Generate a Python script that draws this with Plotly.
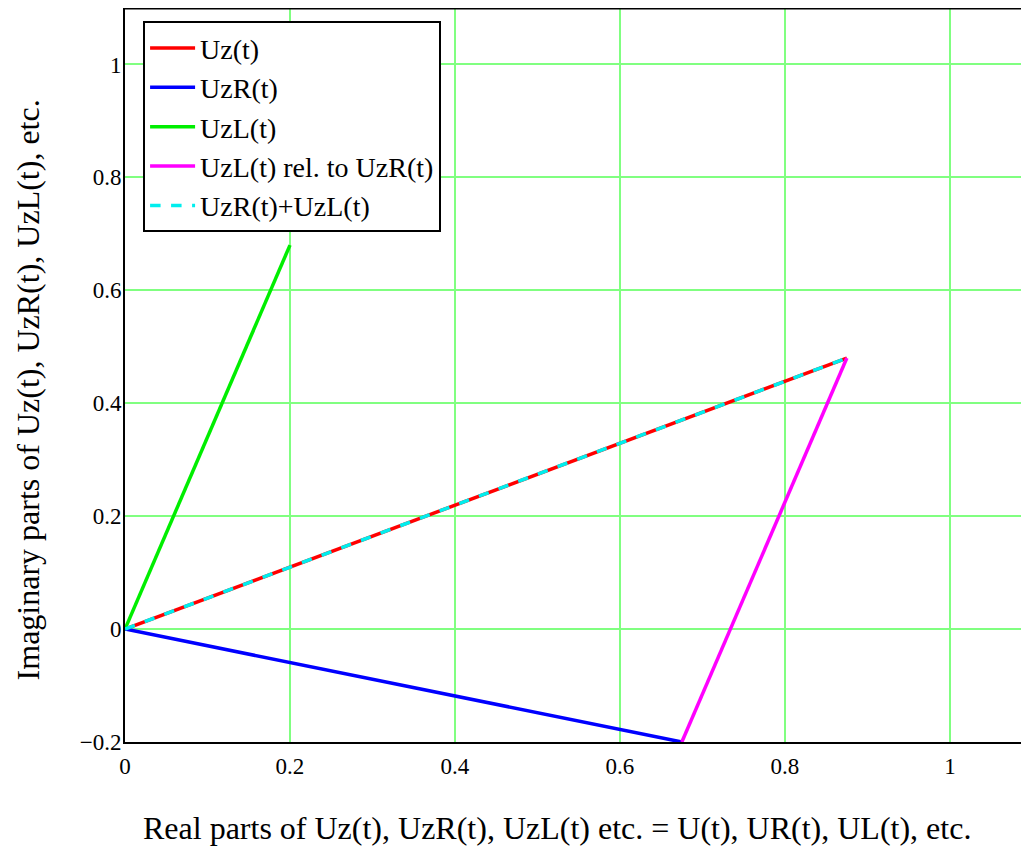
import plotly.graph_objects as go

# Phasor endpoints (real, imaginary)
uz_re = [0, 0.875]
uz_im = [0, 0.48]
uzr_re = [0, 0.675]
uzr_im = [0, -0.2]
uzl_re = [0, 0.2]
uzl_im = [0, 0.68]
rel_re = [0.675, 0.875]
rel_im = [-0.2, 0.48]
sum_re = [0, 0.875]
sum_im = [0, 0.48]

x_ticks = [0, 0.2, 0.4, 0.6, 0.8, 1]
x_labels = ["0", "0.2", "0.4", "0.6", "0.8", "1"]
y_ticks = [-0.2, 0, 0.2, 0.4, 0.6, 0.8, 1]
y_labels = ["\u22120.2", "0", "0.2", "0.4", "0.6", "0.8", "1"]

FONT = '"Liberation Serif", "Times New Roman", serif'

fig = go.Figure()
fig.add_trace(go.Scatter(x=uz_re, y=uz_im, mode="lines", name="Uz(t)",
                         line=dict(color="#ff0000", width=3.5)))
fig.add_trace(go.Scatter(x=uzr_re, y=uzr_im, mode="lines", name="UzR(t)",
                         line=dict(color="#0000ff", width=3.5)))
fig.add_trace(go.Scatter(x=uzl_re, y=uzl_im, mode="lines", name="UzL(t)",
                         line=dict(color="#00ee00", width=3.5)))
fig.add_trace(go.Scatter(x=rel_re, y=rel_im, mode="lines", name="UzL(t) rel. to UzR(t)",
                         line=dict(color="#ff00ff", width=3.5)))
fig.add_trace(go.Scatter(x=sum_re, y=sum_im, mode="lines", name="UzR(t)+UzL(t)",
                         line=dict(color="#00eeee", width=3.5, dash="dash")))

fig.update_layout(
    width=1021, height=838,
    margin=dict(l=117, r=0, t=0, b=104),
    paper_bgcolor="white", plot_bgcolor="white",
    font=dict(family=FONT, size=23, color="black"),
    showlegend=True,
    legend=dict(x=0.02, y=0.982, xanchor="left", yanchor="top",
                bgcolor="white", bordercolor="black", borderwidth=2,
                font=dict(family=FONT, size=28), tracegroupgap=0,
                itemwidth=45),
    xaxis=dict(range=[0, 1.0958], tickvals=x_ticks, ticktext=x_labels,
               showgrid=True, gridcolor="#80ff80", gridwidth=1.5,
               zeroline=False, showline=True, linecolor="black", linewidth=2,
               ticks="", ticklabelstandoff=2),
    yaxis=dict(range=[-0.2, 1.1], tickvals=y_ticks, ticktext=y_labels,
               showgrid=True, gridcolor="#80ff80", gridwidth=1.5,
               zeroline=False, showline=True, linecolor="black", linewidth=2,
               ticks="", ticklabelstandoff=-3),
    annotations=[
        dict(text="Real parts of Uz(t), UzR(t), UzL(t) etc. = U(t), UR(t), UL(t), etc.",
             xref="paper", yref="paper", x=0.478, y=0, xanchor="center", yanchor="middle",
             yshift=-86, showarrow=False, font=dict(family=FONT, size=32)),
        dict(text="Imaginary parts of Uz(t), UzR(t), UzL(t), etc.",
             xref="paper", yref="paper", x=0, y=0.479, xanchor="center", yanchor="middle",
             xshift=-97, textangle=-90, showarrow=False, font=dict(family=FONT, size=32)),
    ],
    shapes=[dict(type="line", xref="paper", yref="paper", x0=0, x1=1, y0=1, y1=1,
                 line=dict(color="black", width=3))],
)

fig.write_html("out.html")
